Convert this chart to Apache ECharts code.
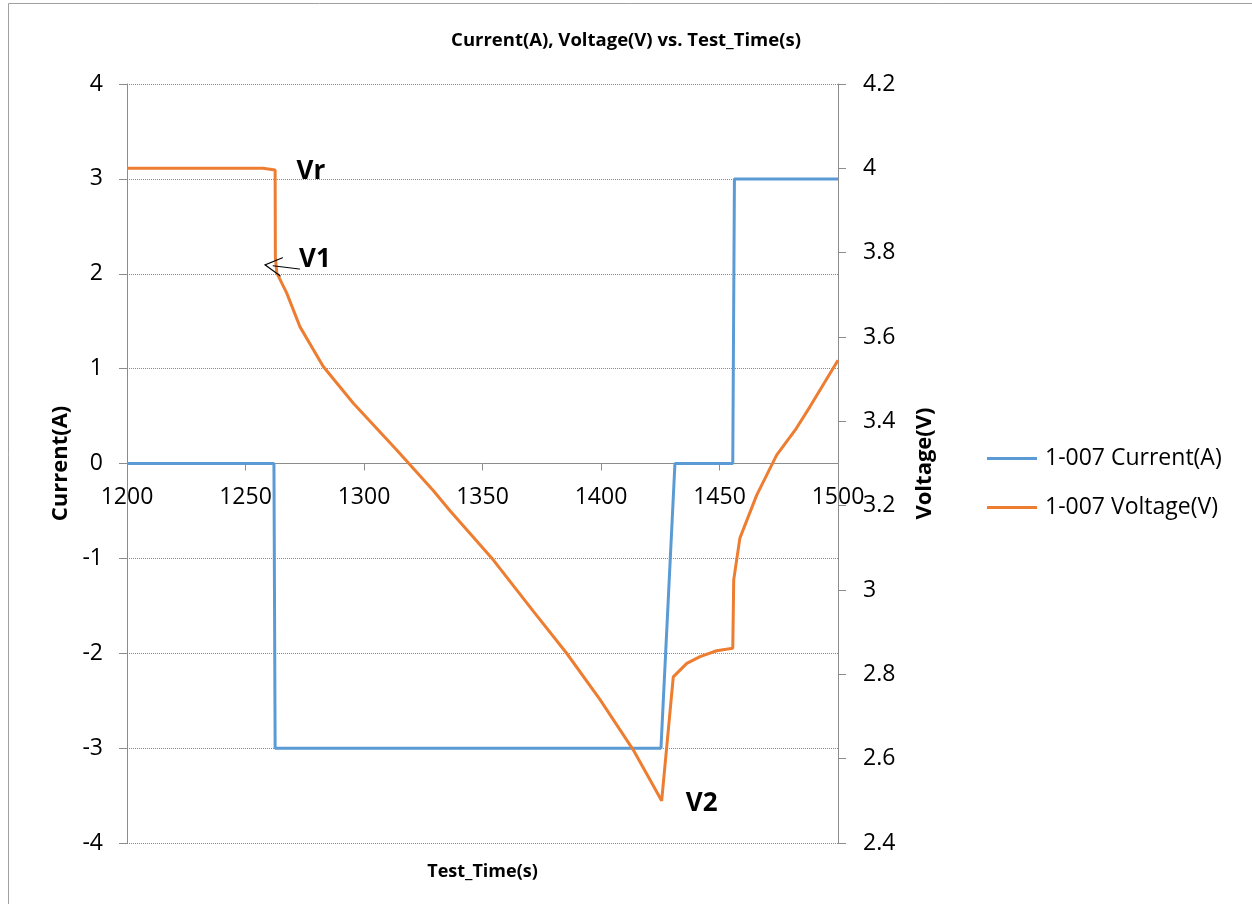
<!DOCTYPE html>
<html>
<head>
<meta charset="utf-8">
<title>Current(A), Voltage(V) vs. Test_Time(s)</title>
<script src="https://cdn.jsdelivr.net/npm/echarts@6/dist/echarts.min.js"></script>
<style>
  html, body { margin: 0; padding: 0; background: #fff; }
  #main { width: 1252px; height: 904px; }
</style>
</head>
<body>
<div id="main"></div>
<script>
  // current steps: [time(s), current(A)]
  var currentData = [
    [1200, 0], [1262, 0], [1262.5, -3], [1425.3, -3],
    [1431.2, 0], [1455.6, 0], [1456.3, 3], [1500, 3]
  ]
  // voltage: [time(s), voltage(V)]
  var voltageData = [
    [1200, 4.0], [1257.4, 4.0], [1262.5, 3.996], [1262.6, 3.79], [1263.2, 3.752],
    [1267.4, 3.704], [1273.0, 3.624], [1282.8, 3.530], [1295.5, 3.443],
    [1313.8, 3.332], [1329.2, 3.236], [1336.3, 3.188], [1354.6, 3.071],
    [1371.4, 2.950], [1385.5, 2.850], [1399.6, 2.740], [1413.6, 2.621],
    [1425.6, 2.500], [1430.5, 2.794], [1436.2, 2.826], [1441.8, 2.842],
    [1448.8, 2.856], [1455.6, 2.862], [1456.0, 3.024], [1458.6, 3.123],
    [1465.7, 3.225], [1474.1, 3.320], [1481.9, 3.379], [1488.2, 3.435],
    [1500, 3.545]
  ]
  // text marks on the voltage curve
  var notes = [
    { name: 'Vr', coord: [1277.6, 3.992] },
    { name: 'V1', coord: [1279.3, 3.783] },
    { name: 'V2', coord: [1442.5, 2.494] }
  ]
  // arrow pointing at V1: from, to
  var arrowFrom = [1273.0, 3.761]
  var arrowTo = [1261.5, 3.769]

  var seriesNames = ['1-007 Current(A)', '1-007 Voltage(V)']
  var font = 'Open Sans'
  var axisGray = '#8c8c8c'

  var gridTop = 84
  var gridBottom = 61
  var chartHeight = 904

  var myChart = echarts.init(document.getElementById('main'))

  // the time axis sits where current = 0 (middle of the -4..4 range)
  var plotHeight = chartHeight - gridTop - gridBottom
  var xAxisOffset = -plotHeight / 2

  var option = {
    backgroundColor: '#fff',
    animation: false,
    textStyle: { fontFamily: font },
    title: {
      text: 'Current(A), Voltage(V) vs. Test_Time(s)',
      left: 'center',
      top: 26,
      textStyle: { fontFamily: font, fontSize: 18.5, fontWeight: 'bold', color: '#000' }
    },
    legend: {
      orient: 'vertical',
      left: 982,
      top: 442,
      itemWidth: 50,
      itemHeight: 3,
      itemGap: 26,
      icon: 'rect',
      data: seriesNames,
      textStyle: { fontFamily: font, fontSize: 23, color: '#000', padding: [0, 0, 0, 3] }
    },
    grid: { left: 127, right: 414, top: gridTop, bottom: gridBottom, containLabel: false, outerBoundsMode: 'none' },
    xAxis: {
      type: 'value',
      min: 1200,
      max: 1500,
      interval: 50,
      offset: xAxisOffset,
      name: 'Test_Time(s)',
      nameLocation: 'middle',
      nameGap: 399,
      nameTextStyle: { fontFamily: font, fontSize: 18, fontWeight: 'bold', color: '#000' },
      axisLine: { onZero: false, lineStyle: { color: axisGray, width: 1 } },
      axisTick: { show: true, length: 7, lineStyle: { color: axisGray } },
      axisLabel: {
        margin: 22, fontFamily: font, fontSize: 23, color: '#000',
        formatter: function (v) { return String(v) }
      },
      splitLine: { show: false }
    },
    yAxis: [
      {
        type: 'value',
        min: -4,
        max: 4,
        interval: 1,
        name: 'Current(A)',
        nameLocation: 'middle',
        nameGap: 53,
        nameTextStyle: { fontFamily: font, fontSize: 22, fontWeight: 'bold', color: '#000' },
        axisLine: { show: true, onZero: false, lineStyle: { color: axisGray, width: 1 } },
        axisTick: { show: true, length: 8, lineStyle: { color: axisGray } },
        axisLabel: { margin: 24, fontFamily: font, fontSize: 23, color: '#000' },
        splitLine: { show: true, lineStyle: { color: '#8a8a8a', type: 'dotted', width: 1 } }
      },
      {
        type: 'value',
        min: 2.4,
        max: 4.2,
        interval: 0.2,
        position: 'right',
        name: 'Voltage(V)',
        nameLocation: 'middle',
        nameGap: 76,
        nameTextStyle: { fontFamily: font, fontSize: 22, fontWeight: 'bold', color: '#000' },
        axisLine: { show: true, onZero: false, lineStyle: { color: axisGray, width: 1 } },
        axisTick: { show: true, length: 8, lineStyle: { color: axisGray } },
        axisLabel: { margin: 25, fontFamily: font, fontSize: 23, color: '#000' },
        splitLine: { show: false }
      }
    ],
    graphic: [
      {
        type: 'rect',
        silent: true,
        shape: { x: 8.5, y: 3.5, width: 1400, height: 1000 },
        style: { fill: 'none', stroke: '#a0a0a0', lineWidth: 1 }
      }
    ],
    series: [
      {
        name: seriesNames[0],
        type: 'line',
        yAxisIndex: 0,
        data: currentData,
        showSymbol: false,
        symbol: 'none',
        color: '#5b9bd5',
        lineStyle: { width: 3, color: '#5b9bd5' },
        z: 3
      },
      {
        name: seriesNames[1],
        type: 'line',
        yAxisIndex: 1,
        data: voltageData,
        showSymbol: false,
        symbol: 'none',
        color: '#ed7d31',
        lineStyle: { width: 3, color: '#ed7d31' },
        z: 4,
        markPoint: {
          silent: true,
          symbol: 'circle',
          symbolSize: 1,
          itemStyle: { color: 'rgba(0,0,0,0)' },
          label: {
            show: true,
            position: 'inside',
            formatter: '{b}',
            fontFamily: font,
            fontSize: 26,
            fontWeight: 'bold',
            color: '#000'
          },
          data: notes
        },
        markLine: {
          silent: true,
          symbol: ['none', 'path://M0,100 L50,0 L100,100 L93,100 L50,14 L7,100 Z'],
          symbolSize: [20, 18],
          label: { show: false },
          lineStyle: { color: '#000', width: 1, type: 'solid' },
          itemStyle: { color: '#000' },
          data: [[{ coord: arrowFrom }, { coord: arrowTo }]]
        }
      }
    ]
  }

  myChart.setOption(option)
</script>
</body>
</html>
